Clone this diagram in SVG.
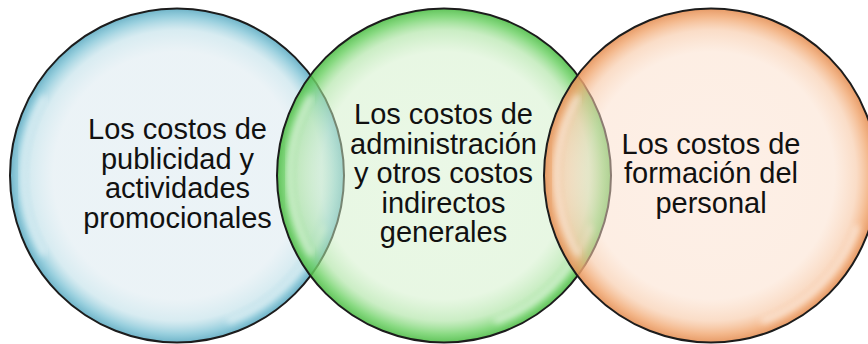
<svg xmlns="http://www.w3.org/2000/svg" width="868" height="344" viewBox="0 0 868 344">
  <defs>
    <radialGradient id="gBlue" cx="50%" cy="50%" r="50%">
      <stop offset="0%" stop-color="#d3e4ec" stop-opacity="0.45"/>
      <stop offset="74%" stop-color="#d3e4ec" stop-opacity="0.45"/>
      <stop offset="87%" stop-color="#b8dce6" stop-opacity="0.55"/>
      <stop offset="95%" stop-color="#80c4d6" stop-opacity="0.8"/>
      <stop offset="100%" stop-color="#5eabc2" stop-opacity="0.9"/>
    </radialGradient>
    <radialGradient id="gGreen" cx="50%" cy="50%" r="50%">
      <stop offset="0%" stop-color="#d6f1ce" stop-opacity="0.5"/>
      <stop offset="74%" stop-color="#d0efc7" stop-opacity="0.5"/>
      <stop offset="87%" stop-color="#a8e29e" stop-opacity="0.6"/>
      <stop offset="95%" stop-color="#6fd267" stop-opacity="0.82"/>
      <stop offset="100%" stop-color="#4fbd48" stop-opacity="0.9"/>
    </radialGradient>
    <radialGradient id="gOrange" cx="50%" cy="50%" r="50%">
      <stop offset="0%" stop-color="#fbe0cf" stop-opacity="0.5"/>
      <stop offset="74%" stop-color="#fbddc8" stop-opacity="0.5"/>
      <stop offset="87%" stop-color="#f7c6a2" stop-opacity="0.6"/>
      <stop offset="95%" stop-color="#f1a872" stop-opacity="0.82"/>
      <stop offset="100%" stop-color="#e48f55" stop-opacity="0.9"/>
    </radialGradient>
    <filter id="soft" x="-20%" y="-20%" width="140%" height="140%">
      <feGaussianBlur stdDeviation="3"/>
    </filter>
  </defs>
  <style>
    .ring { stroke: #1c1c1c; stroke-width: 2; }
    .hl { fill: none; stroke: #ffffff; stroke-width: 6; stroke-linecap: round; opacity: 0.55; filter: url(#soft); }
    .lbl { font-family: "Liberation Sans", Arial, sans-serif; font-size: 29px; fill: #111111; text-anchor: middle; }
  </style>

  <g id="node-publicidad">
    <circle class="ring" cx="177" cy="175.5" r="167" fill="url(#gBlue)"/>
    <path class="hl" d="M 43 98 A 155 155 0 0 0 43 253"/>
    <path class="hl" d="M 323 228 A 155 155 0 0 1 230 321"/>
    <text class="lbl" x="177.5" y="139.3">Los costos de</text>
    <text class="lbl" x="177.5" y="168.8">publicidad y</text>
    <text class="lbl" x="177.5" y="198.3">actividades</text>
    <text class="lbl" x="177.5" y="227.8">promocionales</text>
  </g>

  <g id="node-administracion">
    <circle class="ring" cx="444" cy="175.5" r="167" fill="url(#gGreen)"/>
    <path class="hl" d="M 310 98 A 155 155 0 0 0 310 253"/>
    <path class="hl" d="M 590 228 A 155 155 0 0 1 497 321"/>
    <text class="lbl" x="443.5" y="124.3">Los costos de</text>
    <text class="lbl" x="443.5" y="153.8">administración</text>
    <text class="lbl" x="443.5" y="183.3">y otros costos</text>
    <text class="lbl" x="443.5" y="212.8">indirectos</text>
    <text class="lbl" x="443.5" y="242.3">generales</text>
  </g>

  <g id="node-formacion">
    <circle class="ring" cx="711" cy="175.5" r="167" fill="url(#gOrange)"/>
    <path class="hl" d="M 577 98 A 155 155 0 0 0 577 253"/>
    <path class="hl" d="M 857 228 A 155 155 0 0 1 764 321"/>
    <text class="lbl" x="711" y="153.8">Los costos de</text>
    <text class="lbl" x="711" y="183.3">formación del</text>
    <text class="lbl" x="711" y="212.8">personal</text>
  </g>

  <g id="connectors"/>
</svg>
